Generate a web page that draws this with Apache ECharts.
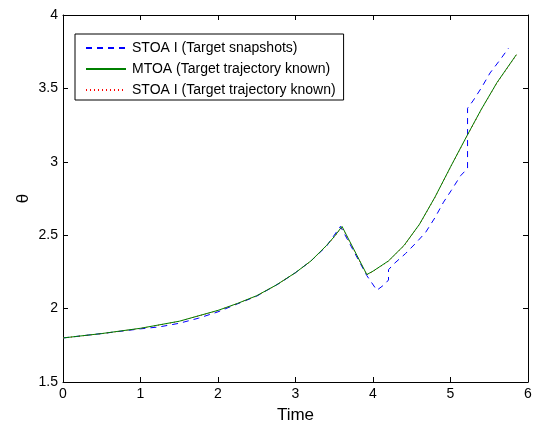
<!DOCTYPE html>
<html><head><meta charset="utf-8">
<script src="https://cdn.jsdelivr.net/npm/echarts@6/dist/echarts.min.js"></script>
<style>html,body{margin:0;padding:0;background:#fff}#c{width:534px;height:425px}</style>
</head><body><div id="c"></div>
<script>
const seriesNames = ['STOA I (Target snapshots)', 'MTOA (Target trajectory known)', 'STOA I (Target trajectory known)'];
const xTicks = [0, 1, 2, 3, 4, 5, 6];
const yTicks = [1.5, 2, 2.5, 3, 3.5, 4];

const blueT = [0, 0.5, 1, 1.25, 1.5, 1.75, 2, 2.25, 2.5, 2.8, 3, 3.2, 3.4, 3.58, 3.92, 4.05, 4.15, 4.2, 4.2, 4.27, 4.42, 4.55, 4.68, 4.8, 4.91, 5.01, 5.13, 5.22, 5.22, 5.29, 5.4, 5.51, 5.64, 5.75];
const blueY = [1.80, 1.83, 1.862, 1.876, 1.90, 1.935, 1.978, 2.032, 2.085, 2.175, 2.245, 2.325, 2.425, 2.56, 2.225, 2.125, 2.165, 2.195, 2.265, 2.305, 2.375, 2.445, 2.52, 2.62, 2.725, 2.805, 2.905, 2.955, 3.365, 3.415, 3.505, 3.605, 3.695, 3.775];

const greenT = [0, 0.5, 1, 1.5, 2, 2.25, 2.5, 2.75, 3, 3.2, 3.4, 3.5, 3.6, 3.92, 4.0, 4.2, 4.4, 4.6, 4.8, 5.0, 5.2, 5.4, 5.6, 5.85];
const greenY = [1.80, 1.83, 1.866, 1.914, 1.988, 2.035, 2.088, 2.16, 2.245, 2.325, 2.43, 2.49, 2.56, 2.232, 2.255, 2.325, 2.43, 2.575, 2.76, 2.965, 3.165, 3.36, 3.54, 3.73];

const redT = [0, 0.5, 1, 1.5, 2, 2.25, 2.5, 2.75, 3, 3.2, 3.4, 3.5, 3.6, 3.92, 4.0, 4.2, 4.4, 4.6, 4.8, 5.0, 5.2, 5.4, 5.6, 5.85];
const redY = [1.80, 1.829, 1.865, 1.913, 1.987, 2.034, 2.087, 2.159, 2.244, 2.324, 2.428, 2.488, 2.555, 2.23, 2.253, 2.323, 2.428, 2.573, 2.758, 2.963, 3.163, 3.358, 3.538, 3.728];

const pairs = (t, y) => t.map((v, i) => [v, y[i]]);
const font = 'Liberation Sans, Arial, Helvetica, sans-serif';

const boxAxis = {
  axisLine: { show: true, onZero: false, lineStyle: { color: '#000', width: 1 } },
  axisTick: { show: true, inside: true, length: 5, lineStyle: { color: '#000' } },
  splitLine: { show: false }
};

const chart = echarts.init(document.getElementById('c'), null, { renderer: 'canvas' });
chart.setOption({
  animation: false,
  backgroundColor: '#fff',
  grid: { left: 63, right: 6, top: 15, bottom: 43, containLabel: false, outerBoundsMode: 'none' },
  legend: {
    left: 75, top: 34, orient: 'vertical',
    padding: [7, 8, 3, 10], itemGap: 7, itemWidth: 40, itemHeight: 14,
    borderColor: '#000', borderWidth: 1, backgroundColor: '#fff', borderRadius: 0,
    itemStyle: { opacity: 0 },
    textStyle: { fontFamily: font, fontSize: 14, lineHeight: 14, color: '#000', padding: [0, 0, 0, 1] },
    data: seriesNames
  },
  xAxis: [
    Object.assign({}, boxAxis, {
      type: 'value', min: xTicks[0], max: xTicks[xTicks.length - 1], interval: 1,
      name: 'Time', nameLocation: 'middle', nameGap: 25,
      nameTextStyle: { fontFamily: font, fontSize: 17, color: '#000' },
      axisLabel: { fontFamily: font, fontSize: 14, color: '#000', margin: 5 }
    }),
    Object.assign({}, boxAxis, {
      type: 'value', position: 'top', min: xTicks[0], max: xTicks[xTicks.length - 1], interval: 1,
      axisLabel: { show: false }
    })
  ],
  yAxis: [
    Object.assign({}, boxAxis, {
      type: 'value', min: yTicks[0], max: yTicks[yTicks.length - 1], interval: 0.5,
      name: 'θ', nameLocation: 'middle', nameGap: 31, nameRotate: 90, nameMoveOverlap: false,
      nameTextStyle: { fontFamily: font, fontSize: 17, color: '#000' },
      axisLabel: { fontFamily: font, fontSize: 14, color: '#000', margin: 5,
        formatter: v => String(v) }
    }),
    Object.assign({}, boxAxis, {
      type: 'value', position: 'right', min: yTicks[0], max: yTicks[yTicks.length - 1], interval: 0.5,
      axisLabel: { show: false }
    })
  ],
  series: [
    { name: seriesNames[0], type: 'line', data: pairs(blueT, blueY), symbol: 'none', z: 3,
      itemStyle: { color: '#0000ff' },
      lineStyle: { color: '#0000ff', width: 1, type: [6, 5] } },
    { name: seriesNames[1], type: 'line', data: pairs(greenT, greenY), symbol: 'none', z: 5,
      itemStyle: { color: '#008000' },
      lineStyle: { color: '#008000', width: 1 } },
    { name: seriesNames[2], type: 'line', data: pairs(redT, redY), symbol: 'none', z: 4,
      itemStyle: { color: '#ff0000' },
      lineStyle: { color: '#ff0000', width: 1, type: [1, 3] } }
  ]
});
</script></body></html>
